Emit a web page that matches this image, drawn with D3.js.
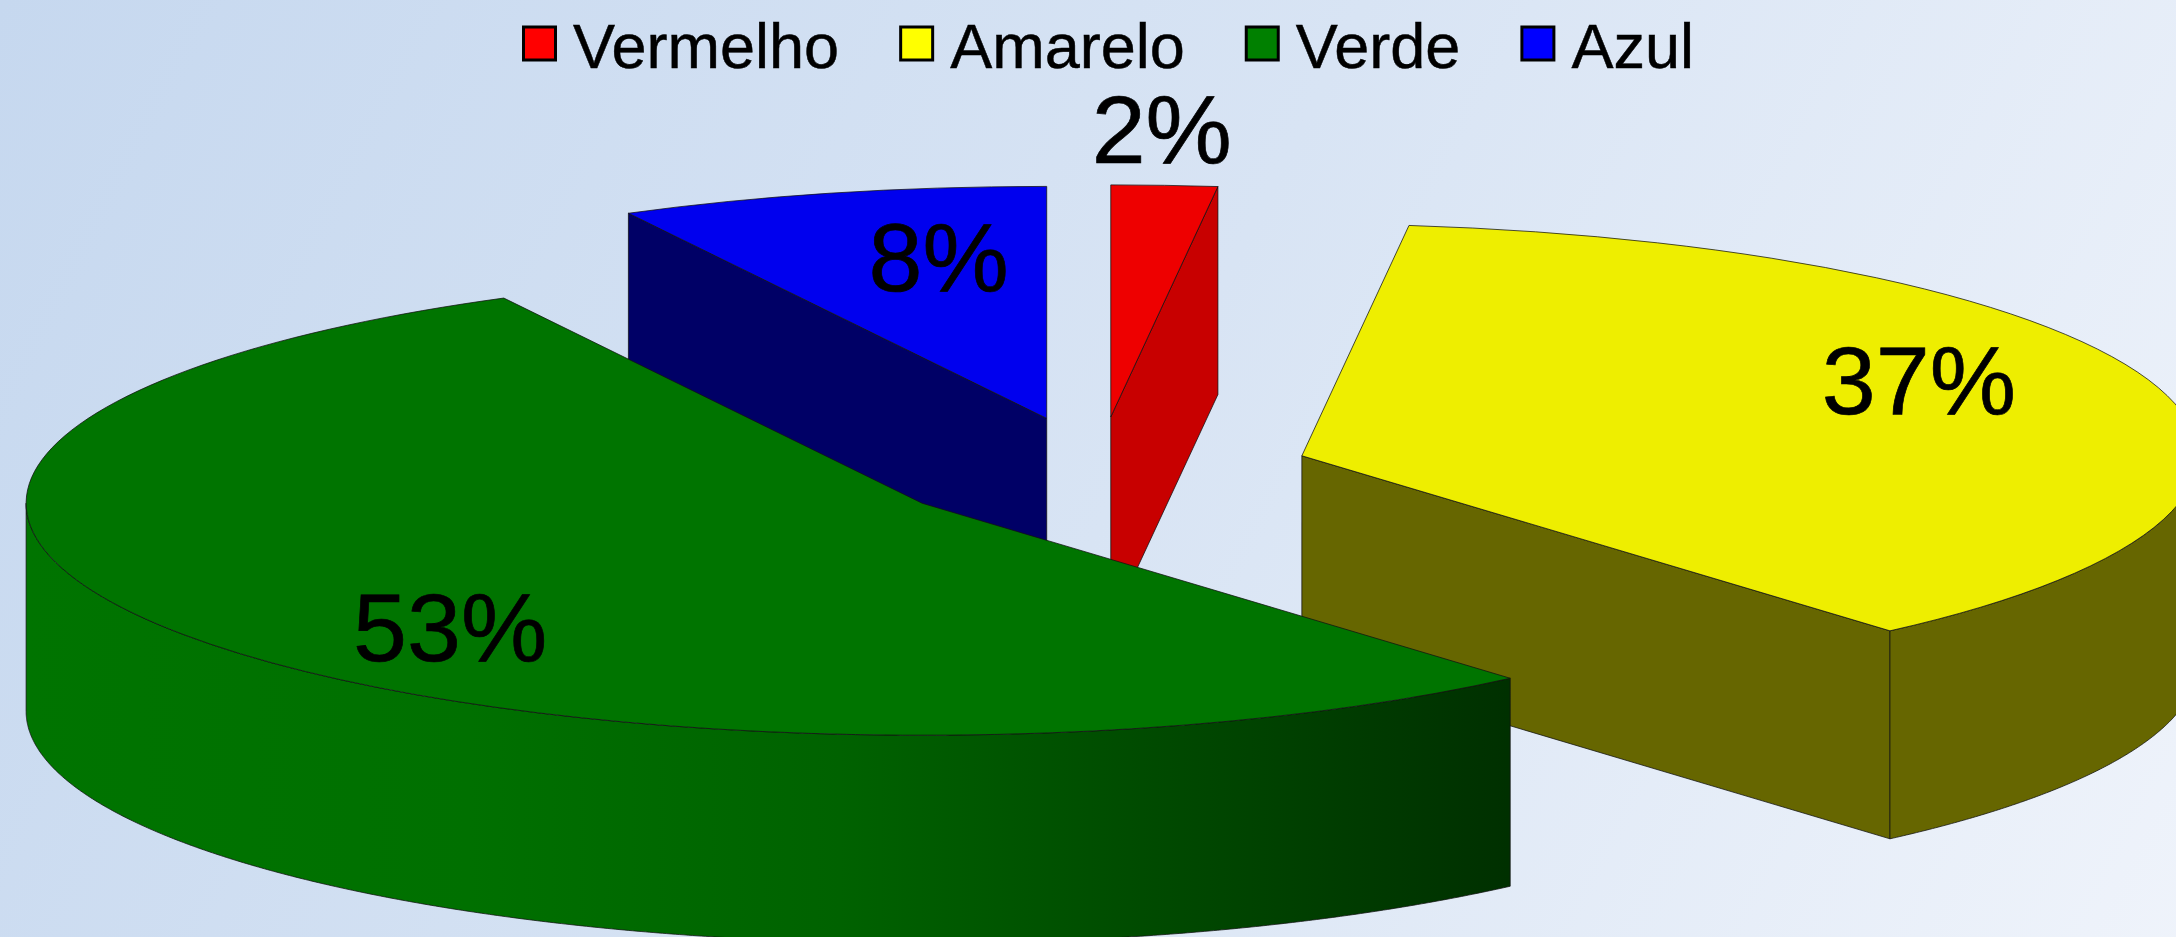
<!DOCTYPE html>
<html><head><meta charset="utf-8">
<script src="https://cdn.jsdelivr.net/npm/d3@7"></script>
<style>html,body{margin:0;padding:0;overflow:hidden;background:#dce6f4}svg{display:block}text{font-family:"Liberation Sans",Arial,sans-serif;fill:#000;stroke:#000}</style>
</head><body><svg id="c" width="2176" height="937"></svg>
<script>
// Data
const categories = ["Vermelho", "Amarelo", "Verde", "Azul"];
const values = [1.9, 36.55, 53.45, 7.7];
// Styles
const legendColors = ["#ff0000", "#ffff00", "#008000", "#0000ff"];
const topColors = ["#ee0000", "#eeee00", "#007400", "#0000ee"];
const wallColors = ["#c80000", "#666600", "#006000", "#000066"];
// Layout
const W = 2176, H = 937, cx = 1098, cy = 472, rx = 896, ry = 232, depth = 208, explode = 0.238;
const labelOffsets = [[51, -254], [617, -42], [-472, 158], [-108, -127]];
const drawOrder = [3, 0, 1, 2];

const svg = d3.select("#c");
const defs = svg.append("defs");
const bg = defs.append("linearGradient").attr("id", "bg")
  .attr("gradientUnits", "userSpaceOnUse").attr("x1", 0).attr("y1", 0).attr("x2", W).attr("y2", 1100);
[[0, "#c6d8ef"], [0.5, "#d8e4f4"], [1, "#f0f4fb"]].forEach(s => bg.append("stop").attr("offset", s[0]).attr("stop-color", s[1]));
const gw = defs.append("linearGradient").attr("id", "greenWall")
  .attr("gradientUnits", "userSpaceOnUse").attr("x1", 25).attr("y1", 0).attr("x2", 1508).attr("y2", 0);
[[0, "#007400"], [0.3, "#007000"], [0.55, "#006200"], [0.78, "#004800"], [1, "#003000"]].forEach(s => gw.append("stop").attr("offset", s[0]).attr("stop-color", s[1]));

svg.append("rect").attr("width", W).attr("height", H).attr("fill", "url(#bg)");

const slices = d3.pie().sort(null).value(d => d)(values);
const arc = d3.arc().innerRadius(0).outerRadius(rx);
const line = d3.line();
const stroke = g => g.attr("stroke", "#111").attr("stroke-width", 1).attr("stroke-opacity", 0.75).attr("stroke-linejoin", "round");
const rim = a => [rx * Math.sin(a), -ry * Math.cos(a)];

drawOrder.forEach(i => {
  const s = slices[i];
  const m = (s.startAngle + s.endAngle) / 2;
  const ax = cx + explode * rx * Math.sin(m), ay = cy - explode * ry * Math.cos(m);
  const g = svg.append("g").attr("transform", `translate(${ax},${ay})`);
  const wallFill = i === 2 ? "url(#greenWall)" : wallColors[i];

  // straight cut faces that look toward the viewer
  const cutWall = a => {
    const p = rim(a);
    g.append("path").attr("d", line([[0, 0], p, [p[0], p[1] + depth], [0, depth]]) + "Z")
      .attr("fill", wallFill).call(stroke);
  };
  if (Math.sin(s.startAngle) < -1e-6) cutWall(s.startAngle);
  if (Math.sin(s.endAngle) > 1e-6) cutWall(s.endAngle);

  // curved outer face on the near half of the ellipse
  const a0 = Math.max(s.startAngle, Math.PI / 2), a1 = Math.min(s.endAngle, Math.PI * 1.5);
  if (a1 > a0) {
    const angles = d3.range(a0, a1, 0.005).concat([a1]);
    const upper = angles.map(rim);
    const lower = upper.map(p => [p[0], p[1] + depth]).reverse();
    if (i === 2) {
      // gradient is defined in page x, so shift it with this group
      gw.attr("gradientTransform", `translate(${-ax},0)`);
    }
    g.append("path").attr("d", line(upper.concat(lower)) + "Z").attr("fill", wallFill).call(stroke);
  }

  // top face
  g.append("path").attr("d", arc(s)).attr("transform", `scale(1,${ry / rx})`)
    .attr("fill", topColors[i]).attr("vector-effect", "non-scaling-stroke").call(stroke);

  s.anchor = [ax, ay];
});

// Percentage labels
slices.forEach((s, i) => {
  svg.append("text").attr("x", s.anchor[0] + labelOffsets[i][0]).attr("y", s.anchor[1] + labelOffsets[i][1])
    .attr("text-anchor", "middle").attr("font-size", 97).attr("stroke-width", 0.7)
    .text(Math.round(s.value) + "%");
});

// Legend
let lx = 522;
categories.forEach((c, i) => {
  svg.append("rect").attr("x", lx + 1.5).attr("y", 27).attr("width", 32).attr("height", 33)
    .attr("fill", legendColors[i]).attr("stroke", "#000").attr("stroke-width", 3);
  const t = svg.append("text").attr("x", lx + 51).attr("y", 68).attr("font-size", 63).attr("stroke-width", 0.5).text(c);
  lx += 51 + t.node().getComputedTextLength() + 60;
});
</script></body></html>
